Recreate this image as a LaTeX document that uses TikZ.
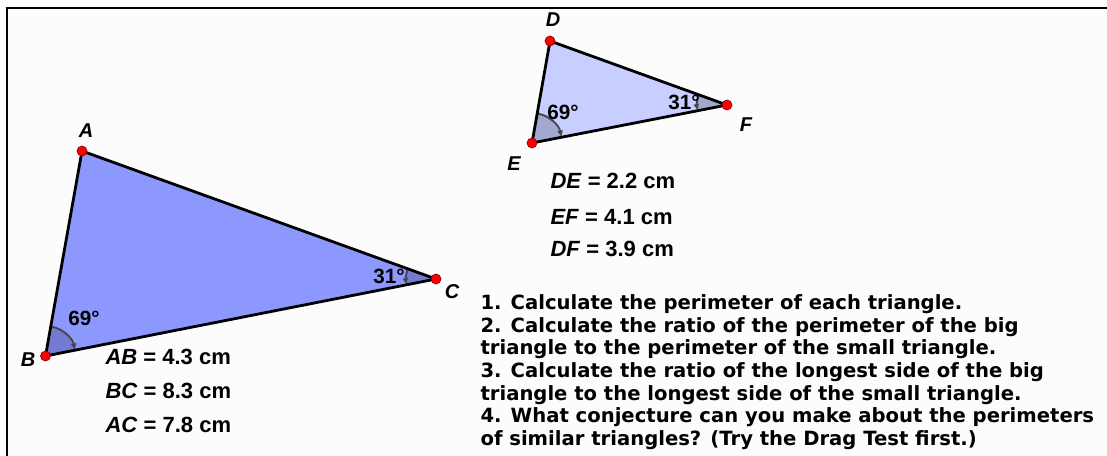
\documentclass[tikz,border=0pt]{standalone}
\usepackage{fontspec}
\setmainfont{Liberation Sans}
\newfontfamily\taskfont{DejaVu Sans}
\usepackage{xcolor}
\usetikzlibrary{positioning, calc, arrows.meta}

\definecolor{bigfill}{RGB}{141,152,255}
\definecolor{smallfill}{RGB}{200,206,255}
\definecolor{paper}{RGB}{252,252,252}
\definecolor{arcgray}{RGB}{70,70,70}

\begin{document}
\begin{tikzpicture}[x=0.75pt,y=-0.75pt,thick,>=latex,
    vertex/.style={circle,fill=red,draw=red!55!black,line width=0.5pt,inner sep=0pt,minimum size=7.5pt},
    vlabel/.style={font=\bfseries\itshape\fontsize{15}{18}\selectfont},
    measure/.style={anchor=base west,inner sep=0pt,font=\bfseries\fontsize{16.5}{20}\selectfont},
    angtext/.style={inner sep=0pt,font=\bfseries\fontsize{15.5}{18}\selectfont},
    angarc/.style={arcgray,line width=1.4pt,-{Latex[length=5pt,width=4.5pt]}},
    sector/.style={fill=black,fill opacity=0.18,draw=none},
    side/.style={line width=2.1pt,line join=round}]

    % Paper and frame
    \fill[paper] (0,0) rectangle (1107,456);
    \useasboundingbox (0,0) rectangle (1107,456);
    \coordinate (TL) at (7,8);
    \coordinate (TR) at (1107,8);
    \coordinate (BL) at (7,456);
    \draw[line width=1.9pt] (BL) -- (TL) -- (TR);

    % Big triangle
    \coordinate (A) at (82,151);
    \coordinate (B) at (45.5,356);
    \coordinate (C) at (436,279);
    \fill[bigfill] (A) -- (B) -- (C) -- cycle;
    \fill[sector] (B) -- ++(-79.9:30) arc[start angle=-79.9,end angle=-11.15,radius=30] -- cycle;
    \fill[sector] (C) -- ++(199.9:30) arc[start angle=199.9,end angle=168.85,radius=30] -- cycle;
    \draw[angarc] (B) ++(-79.9:30) arc[start angle=-79.9,end angle=-11.15,radius=30];
    \draw[angarc] (C) ++(199.9:30) arc[start angle=199.9,end angle=168.85,radius=30];
    \draw[side] (A) -- (B) -- (C) -- cycle;
    \node[vertex] (dotA) at (A) {};
    \node[vertex] (dotB) at (B) {};
    \node[vertex] (dotC) at (C) {};

    % Small triangle
    \coordinate (D) at (550,41);
    \coordinate (E) at (532,143);
    \coordinate (F) at (727,105);
    \fill[smallfill] (D) -- (E) -- (F) -- cycle;
    \fill[sector] (E) -- ++(-80:30) arc[start angle=-80,end angle=-11.03,radius=30] -- cycle;
    \fill[sector] (F) -- ++(199.88:30) arc[start angle=199.88,end angle=168.97,radius=30] -- cycle;
    \draw[angarc] (E) ++(-80:30) arc[start angle=-80,end angle=-11.03,radius=30];
    \draw[angarc] (F) ++(199.88:30) arc[start angle=199.88,end angle=168.97,radius=30];
    \draw[side] (D) -- (E) -- (F) -- cycle;
    \node[vertex] (dotD) at (D) {};
    \node[vertex] (dotE) at (E) {};
    \node[vertex] (dotF) at (F) {};

    % Vertex labels
    \node[vlabel] (labA) at (86,131) {A};
    \node[vlabel] (labB) at (28,360) {B};
    \node[vlabel] (labC) at (452,292) {C};
    \node[vlabel] (labD) at (553,20) {D};
    \node[vlabel] (labE) at (514,164) {E};
    \node[vlabel] (labF) at (746,125) {F};

    % Angles
    \node[angtext] (angB) at (84,318) {69°};
    \node[angtext] (angC) at (389,276) {31°};
    \node[angtext] (angE) at (563,112) {69°};
    \node[angtext] (angF) at (684,102) {31°};

    % Measurements
    \node[measure] (mAB) at (105,364) {\textit{AB} = 4.3 cm};
    \node[measure] (mBC) at (105,398) {\textit{BC} = 8.3 cm};
    \node[measure] (mAC) at (105,432) {\textit{AC} = 7.8 cm};
    \node[measure] (mDE) at (550,189) {\textit{DE} = 2.2 cm};
    \node[measure] (mEF) at (550,224) {\textit{EF} = 4.1 cm};
    \node[measure] (mDF) at (550,257) {\textit{DF} = 3.9 cm};

    % Questions
    \node[anchor=north west,inner sep=0pt,align=left,
          font=\taskfont\bfseries\fontsize{14.7}{17}\selectfont] (task) at (480,294)
      {1. Calculate the perimeter of each triangle.\\
       2. Calculate the ratio of the perimeter of the big\\
       triangle to the perimeter of the small triangle.\\
       3. Calculate the ratio of the longest side of the big\\
       triangle to the longest side of the small triangle.\\
       4. What conjecture can you make about the perimeters\\
       of similar triangles? (Try the Drag Test first.)};
\end{tikzpicture}
\end{document}
